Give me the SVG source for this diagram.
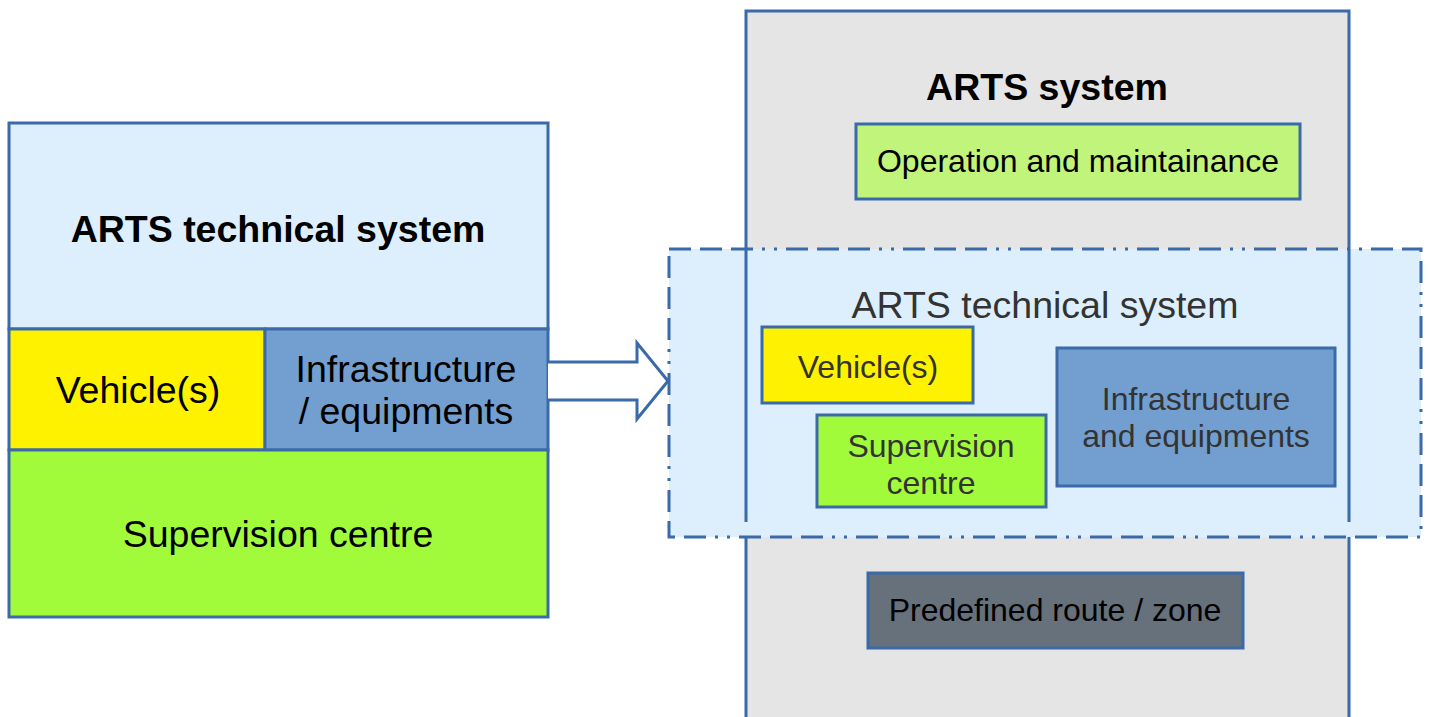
<svg xmlns="http://www.w3.org/2000/svg" width="1431" height="717" viewBox="0 0 1431 717">
<style>
.b{stroke:#3A6AA8;stroke-width:3}
.t{font-family:"Liberation Sans",Arial,sans-serif;text-anchor:middle;fill:#000}
.g{fill:#333}
.bold{font-weight:bold}
.f36{font-size:37.5px}
.f32{font-size:32px}
</style>
<rect width="1431" height="717" fill="#fff"/>
<g id="left-tech">
<rect class="b" x="9" y="123" width="539" height="206" fill="#DDEFFD"/>
<text class="t bold f36" x="278" y="242">ARTS technical system</text>
</g>
<g id="left-vehicle">
<rect class="b" x="9" y="329" width="256" height="121" fill="#FFF200"/>
<text class="t f36" x="138" y="403">Vehicle(s)</text>
</g>
<g id="left-infra">
<rect class="b" x="265" y="329" width="283" height="121" fill="#729FCF"/>
<text class="t f36" x="406" y="382">Infrastructure</text>
<text class="t f36" x="406" y="424">/ equipments</text>
</g>
<g id="left-supervision">
<rect class="b" x="9" y="450" width="539" height="167" fill="#A1FB3B"/>
<text class="t f36" x="278" y="547">Supervision centre</text>
</g>
<g id="arts-system">
<rect class="b" x="746" y="11" width="603" height="720" fill="#E5E5E5"/>
<text class="t bold f36" x="1047" y="100">ARTS system</text>
</g>
<g id="operation">
<rect class="b" x="856" y="124" width="444" height="75" fill="#C0F47A"/>
<text class="t f32" x="1078" y="172">Operation and maintainance</text>
</g>
<g id="right-tech">
<rect x="669" y="249" width="752" height="288" fill="#DDEFFD" stroke="#3A6AA8" stroke-width="3" stroke-dasharray="22 9 22 9 22 9 3 9 3 9"/>
<line class="b" x1="746" y1="249" x2="746" y2="522"/>
<line class="b" x1="1349" y1="249" x2="1349" y2="522"/>
<text class="t g f36" x="1045" y="318">ARTS technical system</text>
</g>
<g id="right-vehicle">
<rect class="b" x="762" y="327" width="211" height="76" fill="#FFF200"/>
<text class="t g f32" x="868" y="378">Vehicle(s)</text>
</g>
<g id="right-supervision">
<rect class="b" x="817" y="415" width="229" height="92" fill="#A1FB3B"/>
<text class="t g f32" x="931" y="457">Supervision</text>
<text class="t g f32" x="931" y="494">centre</text>
</g>
<g id="right-infra">
<rect class="b" x="1057" y="348" width="278" height="138" fill="#729FCF"/>
<text class="t g f32" x="1196" y="410">Infrastructure</text>
<text class="t g f32" x="1196" y="447">and equipments</text>
</g>
<g id="route">
<rect class="b" x="868" y="573" width="375" height="75" fill="#67717B"/>
<text class="t f32" x="1055" y="621">Predefined route / zone</text>
</g>
<g id="connectors">
<path class="b" d="M548,362 H637 V343 L668,381 L637,419 V400 H548" fill="#fff"/>
</g>
</svg>
